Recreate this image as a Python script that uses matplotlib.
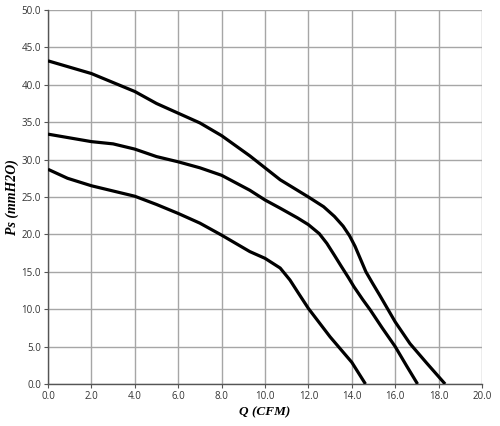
import matplotlib
matplotlib.use("Agg")
from matplotlib import pyplot as plt
import numpy as np

# fan curves: Q (CFM) vs Ps (mmH2O)
q_high = [0, 2, 3, 4, 5, 6, 7, 8, 9.3, 10, 10.7, 12, 12.7, 13.2, 13.6, 13.9, 14.15, 14.4, 14.65, 14.95, 15.3, 15.68, 16.0, 16.68, 17.45, 18.3]
p_high = [43.2, 41.5, 40.3, 39.1, 37.5, 36.2, 34.9, 33.2, 30.5, 28.9, 27.3, 25.0, 23.7, 22.4, 21.1, 19.8, 18.4, 16.7, 15.0, 13.5, 11.8, 9.9, 8.3, 5.4, 2.8, 0]

q_mid = [0, 2, 3, 4, 5, 6, 7, 8, 9.3, 10, 10.7, 11.5, 12, 12.5, 12.85, 13.2, 13.5, 13.85, 14.1, 14.5, 14.85, 15.4, 16, 16.53, 17.03]
p_mid = [33.4, 32.4, 32.1, 31.4, 30.4, 29.7, 28.9, 27.9, 25.9, 24.6, 23.5, 22.2, 21.3, 20.1, 18.8, 17.2, 15.8, 14.2, 13.0, 11.3, 9.9, 7.5, 5.0, 2.4, 0]

q_low = [0, 0.9, 2, 3, 4, 5, 6, 7, 8, 9.3, 10, 10.7, 11.15, 11.55, 12, 13, 14, 14.63]
p_low = [28.7, 27.5, 26.5, 25.8, 25.1, 24.0, 22.8, 21.5, 19.9, 17.7, 16.8, 15.5, 13.9, 12.1, 10.1, 6.3, 2.9, 0]

x_ticks = np.arange(0, 20.1, 2)
y_ticks = np.arange(0, 50.1, 5)

fig = plt.figure(figsize=(5, 4.26), dpi=100)
ax = fig.add_axes([0.096, 0.0986, 0.868, 0.878])

for q, p in [(q_high, p_high), (q_mid, p_mid), (q_low, p_low)]:
    ax.plot(q, p, color="black", lw=2.3, solid_capstyle="butt", solid_joinstyle="round", zorder=3)

ax.set_xlim(0, 20)
ax.set_ylim(0, 50)
ax.set_xticks(x_ticks)
ax.set_yticks(y_ticks)
ax.set_xticklabels([f"{v:.1f}" for v in x_ticks], fontsize=7, family="Open Sans", color="#333333")
ax.set_yticklabels([f"{v:.1f}" for v in y_ticks], fontsize=7, family="Open Sans", color="#333333")
ax.grid(True, color="#a6a6a6", lw=1.0)
ax.tick_params(length=3, width=0.8, color="#555555", pad=2)

for s in ["top", "right"]:
    ax.spines[s].set_visible(False)
for s in ["left", "bottom"]:
    ax.spines[s].set_color("#555555")
    ax.spines[s].set_linewidth(1.0)

ax.set_xlabel("Q (CFM)", fontsize=9.5, family="Liberation Serif", style="italic", weight="bold", labelpad=3)
ax.set_ylabel("Ps (mmH2O)", fontsize=10, family="Liberation Serif", style="italic", weight="bold", labelpad=2)

fig.savefig("out.png", dpi=100)
